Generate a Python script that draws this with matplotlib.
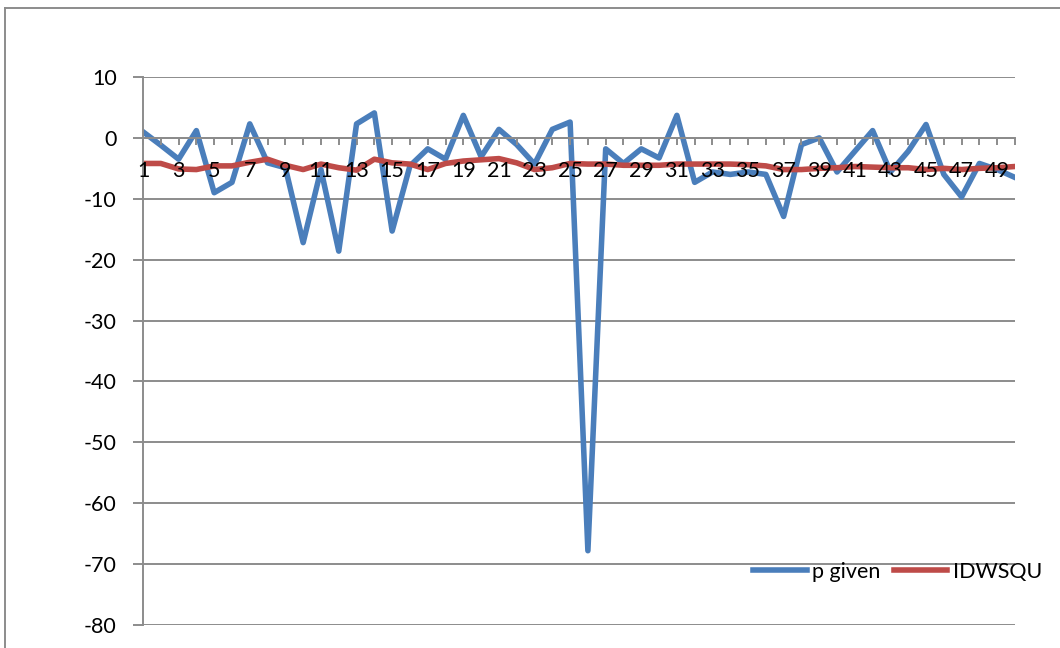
import matplotlib
matplotlib.use("Agg")
import matplotlib.pyplot as plt
from matplotlib.lines import Line2D

plt.rcParams['font.family'] = ['Lato', 'DejaVu Sans']

# point index 1..50
points = list(range(1, 51))

p_given = [1.0, -1.2, -3.5, 1.2, -9.0, -7.3, 2.3, -4.1, -4.9, -17.2,
           -5.2, -18.6, 2.3, 4.1, -15.3, -4.6, -1.8, -3.5, 3.7, -3.1,
           1.4, -1.1, -4.3, 1.4, 2.6, -67.8, -1.8, -4.2, -1.8, -3.3,
           3.7, -7.3, -5.6, -6.0, -5.6, -6.0, -12.9, -1.1, 0.0, -5.6,
           -2.2, 1.2, -5.6, -2.2, 2.2, -6.0, -9.7, -4.2, -5.2, -6.5]

idwsqu = [-4.2, -4.2, -5.1, -5.2, -4.6, -4.6, -4.0, -3.5, -4.5, -5.2,
          -4.3, -4.9, -5.3, -3.5, -4.1, -4.3, -5.2, -4.2, -3.8, -3.6,
          -3.4, -4.1, -5.2, -4.9, -4.2, -4.3, -4.3, -4.5, -4.5, -4.5,
          -4.3, -4.3, -4.3, -4.3, -4.4, -4.6, -5.2, -5.2, -5.0, -4.9,
          -4.7, -4.8, -4.9, -4.9, -5.2, -5.0, -5.2, -5.0, -4.9, -4.7]

y_ticks = list(range(-80, 11, 10))

fig = plt.figure(figsize=(10.6, 6.48), dpi=100)
ax = fig.add_axes([143 / 1060, 1 - 625 / 648, 872 / 1060, 548 / 648])

ax.plot(points, p_given, color='#4a7ebb', lw=4.0, label='p given')
ax.plot(points, idwsqu, color='#be4b48', lw=4.0, label='IDWSQU')

ax.set_xlim(1, 50)
ax.set_ylim(-80, 10)
ax.set_yticks(y_ticks)
ax.set_yticklabels([str(v) for v in y_ticks])
ax.set_xticks(points)
ax.set_xticklabels([str(p) if p % 2 == 1 else '' for p in points])

grid_c = '#8c8c8c'
ax.yaxis.grid(True, color=grid_c, lw=1.4)
ax.set_axisbelow(True)
ax.xaxis.set_zorder(3)   # category labels sit on top of the lines

for s in ['top', 'right']:
    ax.spines[s].set_visible(False)
ax.spines['left'].set_color(grid_c)
ax.spines['left'].set_linewidth(1.4)
ax.spines['bottom'].set_position(('data', 0))
ax.spines['bottom'].set_color(grid_c)
ax.spines['bottom'].set_linewidth(1.4)

ax.tick_params(axis='y', direction='out', length=7, width=1.4, color=grid_c,
               labelsize=15.5, pad=12)
ax.tick_params(axis='x', direction='out', length=5, width=1.4, color=grid_c,
               labelsize=15.5, pad=12)

ax.legend(loc='center right', bbox_to_anchor=(1042 / 1060, 1 - 572 / 648),
          bbox_transform=fig.transFigure, ncol=2, frameon=False, fontsize=15.5,
          handlelength=2.5, handletextpad=0.25, columnspacing=0.6, borderpad=0,
          borderaxespad=0)

# chart area border (cropped on right / bottom)
fig.add_artist(Line2D([5 / 1060, 1], [1 - 8 / 648, 1 - 8 / 648], color='#8c8c8c', lw=1.4))
fig.add_artist(Line2D([5 / 1060, 5 / 1060], [0, 1 - 8 / 648], color='#8c8c8c', lw=1.4))

plt.savefig("out.png", dpi=100)
